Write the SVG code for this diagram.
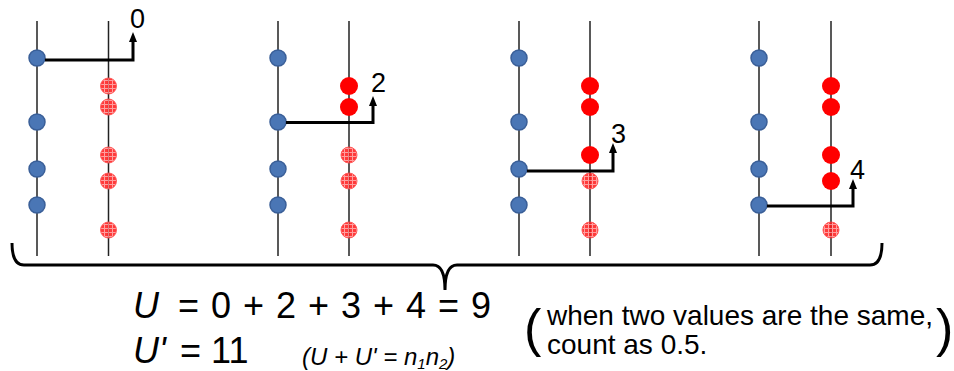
<svg xmlns="http://www.w3.org/2000/svg" width="954" height="371" viewBox="0 0 954 371">
<defs>
  <pattern id="hatch" patternUnits="userSpaceOnUse" width="4" height="4">
    <rect width="4" height="4" fill="#ff1a1a"/>
    <path d="M0,0.5 H4 M0.5,0 V4" stroke="#ff8f8f" stroke-width="1"/>
  </pattern>
  <marker id="ah" viewBox="0 0 10 10" refX="0" refY="5" markerWidth="10" markerHeight="8" markerUnits="userSpaceOnUse" orient="auto" preserveAspectRatio="none">
    <path d="M0,0 L10,5 L0,10 Z" fill="#000"/>
  </marker>
</defs>
<style>
  .axis{stroke:#222;stroke-width:1.5;fill:none}
  .blue{fill:#4a76b5;stroke:#3a5f98;stroke-width:1.5}
  .red{fill:#ff0000}
  .hat{fill:url(#hatch);stroke:#ff4040;stroke-width:1;opacity:0.85}
  .arr{stroke:#000;stroke-width:3;fill:none}
  .lbl{font-family:"Liberation Sans",Arial,sans-serif;font-size:27px;fill:#000}
  .eq{font-family:"Liberation Sans",Arial,sans-serif;font-size:36px;fill:#000}
  .note{font-family:"Liberation Sans",Arial,sans-serif;font-size:28px;fill:#000}
  .par{font-family:"Liberation Sans",Arial,sans-serif;font-size:52px;fill:#000}
  .sm{font-family:"Liberation Sans",Arial,sans-serif;font-size:24px;font-style:italic;fill:#000}
</style>
<rect width="954" height="371" fill="#fff"/>

<g id="panel1">
  <line class="axis" x1="37" y1="21" x2="37" y2="256"/>
  <line class="axis" x1="108.5" y1="21" x2="108.5" y2="256"/>
  <g id="p1-blue">
    <circle class="blue" cx="37" cy="58" r="8"/>
    <circle class="blue" cx="37" cy="122" r="8"/>
    <circle class="blue" cx="37" cy="169" r="8"/>
    <circle class="blue" cx="37" cy="205" r="8"/>
  </g>
  <g id="p1-red">
    <circle class="hat" cx="108.5" cy="86" r="8"/>
    <circle class="hat" cx="108.5" cy="107" r="8"/>
    <circle class="hat" cx="108.5" cy="155" r="8"/>
    <circle class="hat" cx="108.5" cy="181" r="8"/>
    <circle class="hat" cx="108.5" cy="230" r="8"/>
  </g>
  <text class="lbl" x="130" y="28">0</text>
</g>

<g id="panel2">
  <line class="axis" x1="278" y1="21" x2="278" y2="256"/>
  <line class="axis" x1="349" y1="21" x2="349" y2="256"/>
  <g id="p2-blue">
    <circle class="blue" cx="278" cy="58" r="8"/>
    <circle class="blue" cx="278" cy="122" r="8"/>
    <circle class="blue" cx="278" cy="169" r="8"/>
    <circle class="blue" cx="278" cy="205" r="8"/>
  </g>
  <g id="p2-red">
    <circle class="red" cx="349" cy="86" r="9"/>
    <circle class="red" cx="349" cy="107" r="9"/>
    <circle class="hat" cx="349" cy="155" r="8"/>
    <circle class="hat" cx="349" cy="181" r="8"/>
    <circle class="hat" cx="349" cy="230" r="8"/>
  </g>
  <text class="lbl" x="371" y="92">2</text>
</g>

<g id="panel3">
  <line class="axis" x1="519" y1="21" x2="519" y2="256"/>
  <line class="axis" x1="590" y1="21" x2="590" y2="256"/>
  <g id="p3-blue">
    <circle class="blue" cx="519" cy="58" r="8"/>
    <circle class="blue" cx="519" cy="122" r="8"/>
    <circle class="blue" cx="519" cy="169" r="8"/>
    <circle class="blue" cx="519" cy="205" r="8"/>
  </g>
  <g id="p3-red">
    <circle class="red" cx="590" cy="86" r="9"/>
    <circle class="red" cx="590" cy="107" r="9"/>
    <circle class="red" cx="590" cy="155" r="9"/>
    <circle class="hat" cx="590" cy="181" r="8"/>
    <circle class="hat" cx="590" cy="230" r="8"/>
  </g>
  <text class="lbl" x="611" y="143">3</text>
</g>

<g id="panel4">
  <line class="axis" x1="759" y1="21" x2="759" y2="256"/>
  <line class="axis" x1="831" y1="21" x2="831" y2="256"/>
  <g id="p4-blue">
    <circle class="blue" cx="759" cy="58" r="8"/>
    <circle class="blue" cx="759" cy="122" r="8"/>
    <circle class="blue" cx="759" cy="169" r="8"/>
    <circle class="blue" cx="759" cy="205" r="8"/>
  </g>
  <g id="p4-red">
    <circle class="red" cx="831" cy="86" r="9"/>
    <circle class="red" cx="831" cy="107" r="9"/>
    <circle class="red" cx="831" cy="155" r="9"/>
    <circle class="red" cx="831" cy="181" r="9"/>
    <circle class="hat" cx="831" cy="230" r="8"/>
  </g>
  <text class="lbl" x="850" y="179">4</text>
</g>

<g id="connectors">
  <path class="arr" d="M45,60 H133 V42" marker-end="url(#ah)"/>
  <path class="arr" d="M286,122.5 H373 V106" marker-end="url(#ah)"/>
  <path class="arr" d="M527,171 H613 V153" marker-end="url(#ah)"/>
  <path class="arr" d="M767,206 H853 V189" marker-end="url(#ah)"/>
</g>

<g id="brace">
  <path d="M12,243 Q12,265 24,265 H433 Q445,265 445,290 Q445,265 457,265 H870 Q882,265 882,243" fill="none" stroke="#000" stroke-width="3"/>
</g>

<g id="formula">
  <text class="eq" x="133" y="318" font-style="italic">U</text>
  <text class="eq" x="178" y="318" textLength="313" lengthAdjust="spacing">= 0 + 2 + 3 + 4 = 9</text>
  <text class="eq" x="133" y="363" font-style="italic">U'</text>
  <text class="eq" x="180" y="363">= 11</text>
  <text class="sm" x="302" y="365">(U + U' = n<tspan font-size="15" dy="4">1</tspan><tspan dy="-4">n</tspan><tspan font-size="15" dy="4">2</tspan><tspan dy="-4">)</tspan></text>
</g>

<g id="note">
  <text class="par" x="524" y="346">(</text>
  <text class="note" x="547" y="325">when two values are the same,</text>
  <text class="note" x="547" y="354">count as 0.5.</text>
  <text class="par" x="936" y="346">)</text>
</g>
</svg>
